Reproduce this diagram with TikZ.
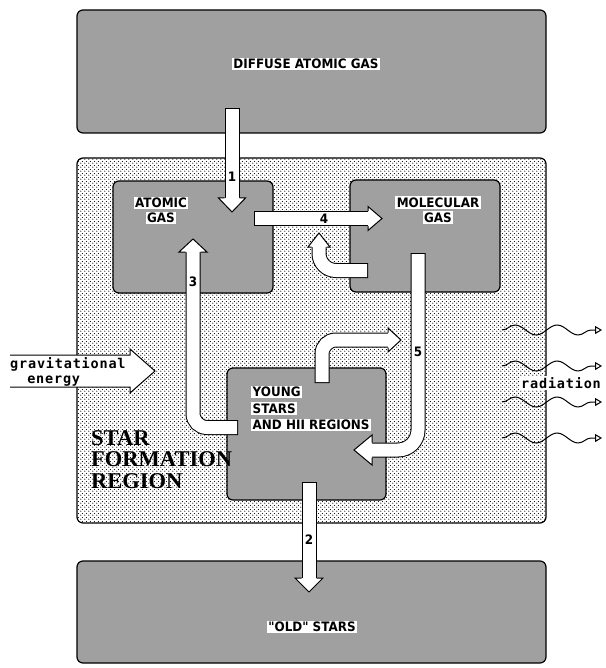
\documentclass[tikz,border=0pt]{standalone}
\usepackage{fontspec}
\usetikzlibrary{calc,arrows.meta,decorations.pathmorphing,patterns}
\newfontfamily\pixfont{DejaVu Sans}[FakeStretch=0.92]
\newfontfamily\lowfont{DejaVu Sans Mono}[LetterSpace=6]
\newfontfamily\regionfont{Liberation Serif}
\definecolor{boxgray}{HTML}{A0A0A0}
\pgfdeclarepatternformonly{sfdots}{\pgfqpoint{0pt}{0pt}}{\pgfqpoint{4pt}{4pt}}{\pgfqpoint{4pt}{4pt}}{%
  \pgfpathcircle{\pgfqpoint{1pt}{1pt}}{0.7pt}%
  \pgfpathcircle{\pgfqpoint{3pt}{3pt}}{0.7pt}%
  \pgfusepath{fill}}
\setlength{\fboxsep}{1.5pt}
\newcommand{\chip}[1]{\colorbox{white}{#1}}
\tikzset{
  panel/.style={draw=black, line width=1.2pt, rounded corners=6pt, inner sep=0pt},
  darkbox/.style={panel, fill=boxgray},
  regionbox/.style={panel, preaction={fill=white}, pattern=sfdots},
  tag/.style={font=\pixfont\bfseries\fontsize{13}{15}\selectfont, inner sep=0pt, align=center},
  num/.style={font=\pixfont\bfseries\fontsize{13}{15}\selectfont, inner sep=0pt},
  lowtext/.style={font=\lowfont\bfseries\fontsize{13.5}{15}\selectfont, inner sep=0pt},
  shaftout/.style={line width=15pt, draw=black, rounded corners=#1},
  shaftout/.default=14pt,
  shaftin/.style={line width=13pt, draw=white, rounded corners=#1, shorten <=1pt},
  shaftin/.default=14pt,
  headfill/.style={fill=white, draw=black, line width=1pt, line join=miter},
  wave/.style={draw=black, line width=1pt, -{Triangle[open, length=7pt, width=8pt]},
    decorate, decoration={snake, amplitude=5pt, segment length=42pt, post length=8pt}},
}
\begin{document}
\begin{tikzpicture}[x=1pt,y=-1pt]
  \useasboundingbox (0,0) rectangle (605,668);
  % boxes
  \node[regionbox, minimum width=469pt, minimum height=365pt] (sfr) at (311.5,340.5) {};
  \node[darkbox, minimum width=469pt, minimum height=123pt] (diffuse) at (311.5,71.5) {};
  \node[darkbox, minimum width=469pt, minimum height=102pt] (old) at (311.5,612) {};
  \node[darkbox, minimum width=160pt, minimum height=112pt] (atomic) at (193,237) {};
  \node[darkbox, minimum width=150pt, minimum height=112pt] (molecular) at (425,236) {};
  \node[darkbox, minimum width=159pt, minimum height=132pt] (young) at (306.5,434) {};

  % flow arrows
  \coordinate (a1t) at (232,108);   \coordinate (a1b) at (232,198);
  \coordinate (a2t) at (309,482);   \coordinate (a2b) at (309,578);
  \coordinate (a3t) at (238,427.5); \coordinate (a3b) at (193,252);
  \coordinate (rtt) at (368,270.5); \coordinate (rtb) at (319,247);
  \coordinate (a4t) at (254,218.5); \coordinate (a4b) at (368,218.5);
  \coordinate (a5t) at (418,253);   \coordinate (a5b) at (372,450);
  \coordinate (brt) at (322,383);   \coordinate (brb) at (388,340);
  \draw[shaftout] (a1t) -- (a1b);  \draw[shaftin] (a1t) -- (a1b);
  \draw[shaftout] (a2t) -- (a2b);  \draw[shaftin] (a2t) -- (a2b);
  \draw[shaftout] (a3t) -| (a3b);  \draw[shaftin] (a3t) -| (a3b);
  \draw[shaftout=17pt] (rtt) -| (rtb);  \draw[shaftin=17pt] (rtt) -| (rtb);
  \draw[shaftout] (a4t) -- (a4b);  \draw[shaftin] (a4t) -- (a4b);
  \draw[shaftout=20pt] (a5t) |- (a5b);  \draw[shaftin=20pt] (a5t) |- (a5b);
  \draw[shaftout] (brt) |- (brb);  \draw[shaftin] (brt) |- (brb);
  \foreach \b/\ang/\h/\l in {a1b/-90/13.5/14, a2b/-90/14/14, a3b/90/14/13, rtb/90/11/14,
                             a4b/0/12/14, a5b/180/15/18, brb/0/12/13}
    \path[headfill, shift={(\b)}, rotate=\ang] (0,7.5) -- (0,\h) -- (\l,0) -- (0,-\h) -- (0,-7.5);

  % energy in
  \coordinate (gtip) at (155,371);
  \path[headfill] (10,355) -- (130,355) -- (130,349) -- (gtip) -- (130,393) -- (130,387) -- (10,387);
  \node[lowtext, align=left, anchor=west] (gravlbl) at (10,371.5) {gravitational\\\phantom{gr}energy};

  % radiation out
  \foreach \y [count=\i] in {330,366,402,438} {
    \coordinate (w\i) at (502,\y);
    \draw[wave] (w\i) -- ++(100,0);
  }
  \node[lowtext, fill=white, inner sep=1pt] (radlbl) at (561,383) {radiation};

  % labels
  \node[tag] (diffuselbl) at (306,64) {\chip{DIFFUSE ATOMIC GAS}};
  \node[tag] (atomiclbl) at (161,210.5) {\chip{ATOMIC}\\\chip{GAS}};
  \node[tag] (molecularlbl) at (438,210) {\chip{MOLECULAR}\\\chip{GAS}};
  \node[tag, font=\pixfont\bfseries\fontsize{13}{16.5}\selectfont, align=left, anchor=west] (younglbl)
    at (251,408.5) {\chip{YOUNG}\\\chip{STARS}\\\chip{AND HII REGIONS}};
  \node[tag] (oldlbl) at (312,627) {\chip{"OLD" STARS}};
  \node[font=\regionfont\bfseries\fontsize{22.5}{21.5}\selectfont, align=left, anchor=north west, inner sep=0pt]
    (sfrlbl) at (91,430) {STAR\\FORMATION\\REGION};
  \node[num] (n1) at (232,177) {1};
  \node[num] (n2) at (309,540) {2};
  \node[num] (n3) at (193,282) {3};
  \node[num] (n4) at (324,218.5) {4};
  \node[num] (n5) at (418,352) {5};
\end{tikzpicture}
\end{document}
